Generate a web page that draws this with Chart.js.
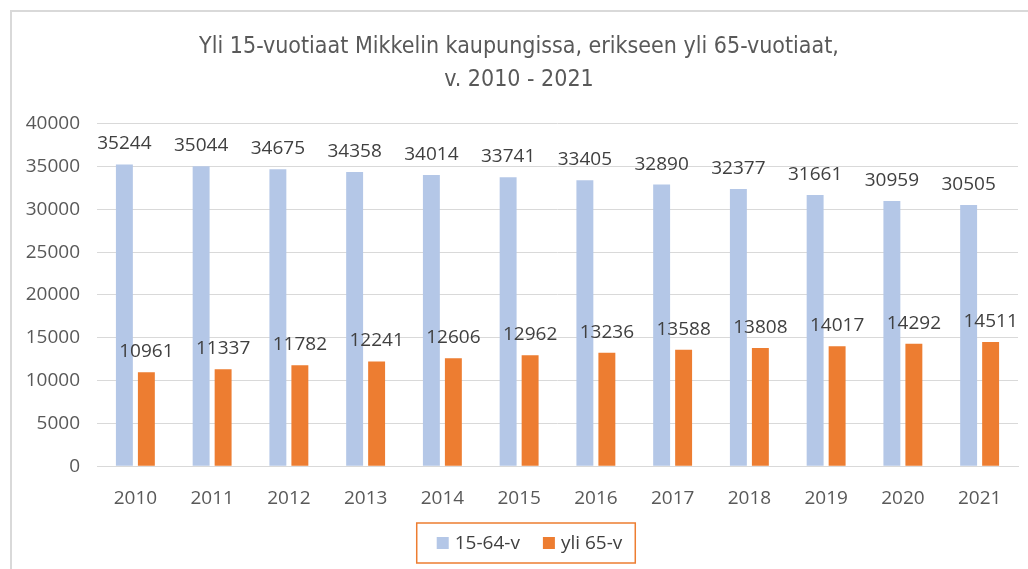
<!DOCTYPE html>
<html>
<head>
<meta charset="utf-8">
<script src="https://cdn.jsdelivr.net/npm/chart.js"></script>
<style>
  html, body { margin: 0; padding: 0; background: #fff; }
  #wrap { width: 1028px; height: 569px; position: relative; }
</style>
</head>
<body>
<div id="wrap"><canvas id="popChart" width="1028" height="569"></canvas></div>
<script>
// Data
const years = ['2010', '2011', '2012', '2013', '2014', '2015', '2016', '2017', '2018', '2019', '2020', '2021'];
const age15to64 = [35244, 35044, 34675, 34358, 34014, 33741, 33405, 32890, 32377, 31661, 30959, 30505];
const over65 = [10961, 11337, 11782, 12241, 12606, 12962, 13236, 13588, 13808, 14017, 14292, 14511];
const yTicks = [0, 5000, 10000, 15000, 20000, 25000, 30000, 35000, 40000];

const baseFont = "'Open Sans', 'DejaVu Sans', sans-serif";

// Value labels above the bars
const valueLabels = {
    id: 'valueLabels',
    afterDatasetsDraw(chart) {
        const ctx = chart.ctx;
        ctx.save();
        ctx.font = '19px ' + baseFont;
        ctx.fillStyle = '#404040';
        ctx.textAlign = 'center';
        ctx.textBaseline = 'alphabetic';
        chart.data.datasets.forEach(function(ds, i) {
            chart.getDatasetMeta(i).data.forEach(function(bar, j) {
                ctx.fillText(ds.data[j], bar.x, bar.y - 15);
            });
        });
        ctx.restore();
    }
};

// Outer frame lines
const frame = {
    id: 'frame',
    beforeDraw(chart) {
        const ctx = chart.ctx;
        ctx.save();
        ctx.strokeStyle = '#d9d9d9';
        ctx.lineWidth = 2;
        ctx.beginPath();
        ctx.moveTo(11, 569);
        ctx.lineTo(11, 11);
        ctx.lineTo(1028, 11);
        ctx.stroke();
        ctx.restore();
    }
};

// Boxed legend under the axis (Excel style)
const boxLegend = {
    id: 'boxLegend',
    afterDraw(chart) {
        const ctx = chart.ctx;
        const sq = 12, gapText = 6, gapItem = 23, padL = 20, padR = 13;
        ctx.save();
        ctx.font = '19px ' + baseFont;
        const items = chart.data.datasets.map(function(ds) {
            return { label: ds.label, color: ds.backgroundColor, w: ctx.measureText(ds.label).width };
        });
        let content = 0;
        items.forEach(function(it, i) {
            content += sq + gapText + it.w + (i < items.length - 1 ? gapItem : 0);
        });
        const boxW = content + padL + padR;
        const boxH = 40;
        const boxX = 526 - boxW / 2;
        const boxY = 523;
        ctx.strokeStyle = '#ed7d31';
        ctx.lineWidth = 1.5;
        ctx.strokeRect(boxX, boxY, boxW, boxH);
        let x = boxX + padL;
        const cy = boxY + boxH / 2;
        ctx.textBaseline = 'middle';
        ctx.textAlign = 'left';
        items.forEach(function(it) {
            ctx.fillStyle = it.color;
            ctx.fillRect(x, cy - sq / 2, sq, sq);
            x += sq + gapText;
            ctx.fillStyle = '#404040';
            ctx.fillText(it.label, x, cy + 1);
            x += it.w + gapItem;
        });
        ctx.restore();
    }
};

const ctx = document.getElementById('popChart').getContext('2d');
const popChart = new Chart(ctx, {
    type: 'bar',
    data: {
        labels: years,
        datasets: [{
            label: '15-64-v',
            data: age15to64,
            backgroundColor: '#b4c7e7',
            borderWidth: 0,
            barPercentage: 0.77,
            categoryPercentage: 0.573
        }, {
            label: 'yli 65-v',
            data: over65,
            backgroundColor: '#ed7d31',
            borderWidth: 0,
            barPercentage: 0.77,
            categoryPercentage: 0.573
        }]
    },
    plugins: [frame, valueLabels, boxLegend],
    options: {
        responsive: false,
        animation: false,
        layout: {
            padding: { top: 30, left: 20, right: 10, bottom: 46 }
        },
        plugins: {
            title: {
                display: true,
                text: ['Yli 15-vuotiaat Mikkelin kaupungissa, erikseen yli 65-vuotiaat,', 'v. 2010 - 2021'],
                color: '#595959',
                font: { family: "'Liberation Sans Narrow', 'DejaVu Sans Condensed', sans-serif", size: 23, weight: 'normal', lineHeight: 1.45 },
                padding: { top: 0, bottom: 27 }
            },
            legend: { display: false },
            tooltip: { enabled: false }
        },
        scales: {
            x: {
                grid: { display: false },
                border: { color: '#d9d9d9' },
                ticks: {
                    color: '#595959',
                    font: { family: baseFont, size: 19 },
                    padding: 13
                }
            },
            y: {
                min: 0,
                max: 40000,
                afterBuildTicks: function(scale) {
                    scale.ticks = yTicks.map(function(v) { return { value: v }; });
                },
                afterFit: function(scale) {
                    scale.width = 77;
                },
                grid: { color: '#d9d9d9', drawTicks: false },
                border: { display: false },
                ticks: {
                    color: '#595959',
                    font: { family: baseFont, size: 19 },
                    padding: 17,
                    callback: function(v) { return v; }
                }
            }
        }
    }
});
</script>
</body>
</html>
